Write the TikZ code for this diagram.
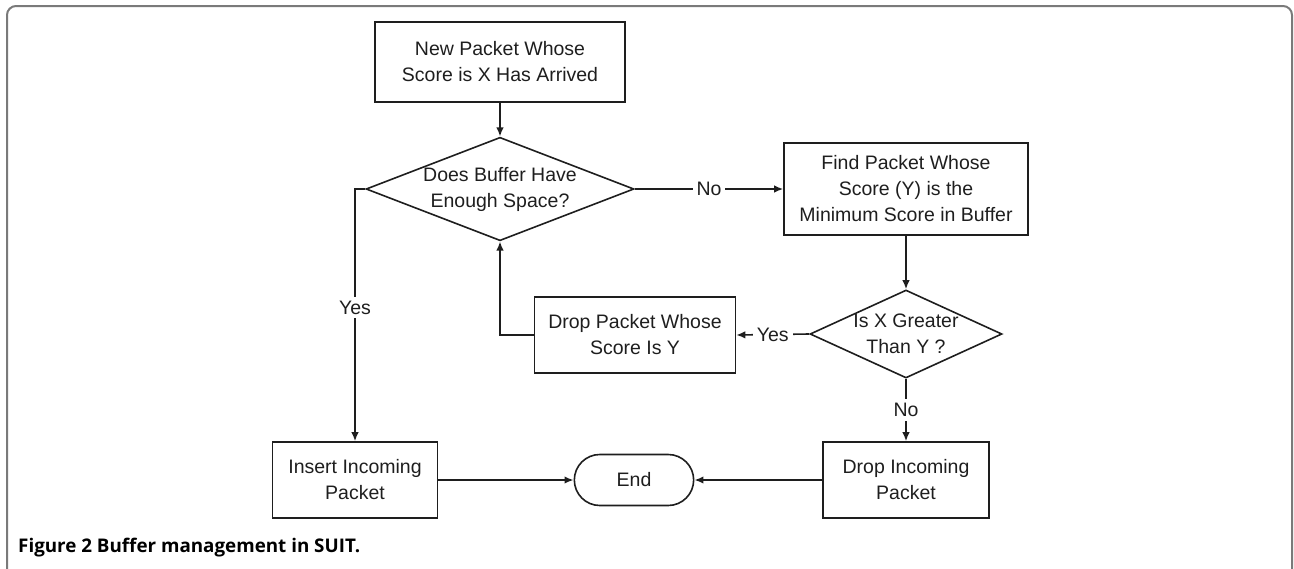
\documentclass[tikz,border=0pt]{standalone}
\usepackage{fontspec}
\setmainfont{Liberation Sans}
\newfontfamily\capfont{Open Sans}
\usetikzlibrary{shapes.geometric,shapes.misc,arrows.meta}
\definecolor{ink}{HTML}{1E1E1E}
\definecolor{framegray}{HTML}{7A7A7A}
\begin{document}
\begin{tikzpicture}[x=1pt,y=-1pt,
  every node/.style={font=\fontsize{19.5}{26}\selectfont, text=ink},
  procbox/.style={draw=ink, line width=1.6pt, rectangle, align=center, inner sep=2pt},
  decision/.style={draw=ink, line width=1.6pt, diamond, align=center, inner sep=0pt},
  terminal/.style={draw=ink, line width=1.6pt, rounded rectangle, align=center},
  flow/.style={draw=ink, line width=1.6pt, -{Latex[length=9pt,width=7.5pt]}},
  lbl/.style={fill=white, inner sep=4pt}]
\useasboundingbox (0,0) rectangle (1294,568);

% outer frame, open at the bottom
\draw[framegray, line width=2pt, rounded corners=9pt]
  (7,580) -- (7,6) -- (1292,6) -- (1292,580);

% flowchart nodes
\node[procbox, minimum width=250pt, minimum height=80pt] (arrive) at (500,62)
  {New Packet Whose\\Score is X Has Arrived};
\node[decision, shape aspect=2.59, minimum width=264pt, minimum height=102pt] (space) at (500,189)
  {Does Buffer Have\\Enough Space?};
\node[procbox, minimum width=244pt, minimum height=92pt] (findmin) at (906,189)
  {Find Packet Whose\\Score (Y) is the\\Minimum Score in Buffer};
\node[decision, shape aspect=2.18, minimum width=192pt, minimum height=88pt] (greater) at (906,334)
  {Is X Greater\\Than Y ?};
\node[procbox, minimum width=201pt, minimum height=76pt] (dropmin) at (635,335)
  {Drop Packet Whose\\Score Is Y};
\node[procbox, minimum width=165pt, minimum height=76pt] (insert) at (355,480)
  {Insert Incoming\\Packet};
\node[procbox, minimum width=166pt, minimum height=76pt] (dropin) at (906,480)
  {Drop Incoming\\Packet};
\node[terminal, minimum width=126pt, minimum height=51pt] (end) at (634,480) {End};

% connectors
\draw[flow] (arrive.south) -- (space.north);
\draw[flow] (space.east) -- node[lbl] {No} (findmin.west);
\draw[flow] (findmin.south) -- (greater.north);
\draw[flow] (greater.west) -- node[lbl] {Yes} (dropmin.east);
\draw[flow] (greater.south) -- node[lbl] {No} (dropin.north);
\draw[flow] (dropmin.west) -| (space.south);
\draw[flow] (space.west) -| node[lbl, pos=0.735] {Yes} (insert.north);
\draw[flow] (insert.east) -- (end.west);
\draw[flow] (dropin.west) -- (end.east);

% caption
\node[anchor=base west, inner sep=0pt, font=\capfont\bfseries\fontsize{18.8}{22}\selectfont, text=black]
  (caption) at (18,552) {Figure 2 Buffer management in SUIT.};
\end{tikzpicture}
\end{document}
